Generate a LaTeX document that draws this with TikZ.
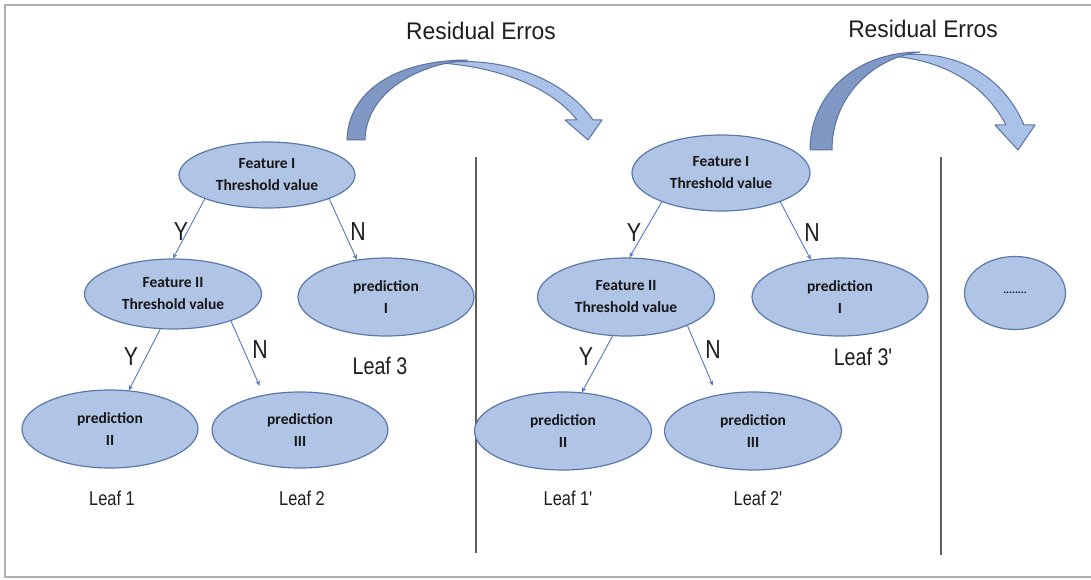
\documentclass[tikz,border=0pt]{standalone}
\usepackage{fontspec}
\setmainfont{Liberation Sans}
\newfontfamily\labfont[FakeStretch=0.82]{Liberation Sans}
\newfontfamily\titlefont[FakeStretch=0.95]{Liberation Sans}
\newfontfamily\calfont{Carlito}
\usetikzlibrary{shapes.geometric,arrows.meta}
\definecolor{ellfill}{RGB}{176,196,230}
\definecolor{ellborder}{RGB}{92,120,170}
\definecolor{edgecol}{RGB}{85,120,195}
\definecolor{txt}{RGB}{30,30,30}
\definecolor{nodetxt}{RGB}{22,22,22}
\definecolor{framecol}{RGB}{175,175,175}
\definecolor{sepcol}{RGB}{95,95,95}
\definecolor{arrdark}{RGB}{128,152,196}
\definecolor{arrlight}{RGB}{170,194,232}
\definecolor{arrborder}{RGB}{92,114,162}
\tikzset{
  ell/.style={ellipse, draw=ellborder, fill=ellfill, line width=1.2pt, inner sep=0pt,
    align=center, text=nodetxt, font=\calfont\bfseries\fontsize{15.5}{22}\selectfont},
  conn/.style={draw=edgecol, line width=0.9pt, -{Stealth[length=5pt,width=4.5pt]}},
  yn/.style={text=txt, font=\labfont\fontsize{26}{26}\selectfont, inner sep=0pt},
  leafsmall/.style={text=txt, font=\labfont\fontsize{20}{20}\selectfont, inner sep=0pt},
  leafbig/.style={text=txt, font=\labfont\fontsize{24}{24}\selectfont, inner sep=0pt},
  ttl/.style={text=txt, font=\titlefont\fontsize{24}{24}\selectfont, inner sep=0pt},
  arrowpart/.style={draw=arrborder, line width=1pt, line join=round},
  sep/.style={draw=sepcol, line width=1.6pt}
}
\begin{document}
\begin{tikzpicture}[x=1pt,y=-1pt]
\useasboundingbox (0,0) rectangle (1091,580);
\fill[white] (0,0) rectangle (1091,580);
% frame
\draw[framecol, line width=2.5pt] (1091,5) -- (5,5) -- (5,577) -- (1091,577);

% separators
\coordinate (s1t) at (476,157); \coordinate (s1b) at (476,553);
\coordinate (s2t) at (941,157); \coordinate (s2b) at (941,555);
\draw[sep] (s1t) -- (s1b);
\draw[sep] (s2t) -- (s2b);

% titles
\node[ttl] (t1) at (481,31) {Residual Erros};
\node[ttl] (t2) at (923,29) {Residual Erros};

% curved arrow 1
\filldraw[arrowpart, fill=arrlight] (440,63) .. controls (505,55) and (565,80) .. (593,120)
  -- (602,120) -- (588,140) -- (565,120) -- (577,120)
  .. controls (552,88) and (500,67) .. (440,63) -- cycle;
\filldraw[arrowpart, fill=arrdark] (347,140) .. controls (348,92) and (395,60) .. (468,60)
  .. controls (418,64) and (366,92) .. (365,140) -- cycle;

% curved arrow 2
\filldraw[arrowpart, fill=arrlight] (890,56) .. controls (960,46) and (1005,80) .. (1024,125)
  -- (1035,125) -- (1018,150) -- (995,125) -- (1006,125)
  .. controls (985,85) and (945,60) .. (890,56) -- cycle;
\filldraw[arrowpart, fill=arrdark] (810,150) .. controls (810,95) and (855,52) .. (920,52)
  .. controls (875,57) and (832,95) .. (832,150) -- cycle;

% left tree
\node[ell, minimum width=176pt, minimum height=66pt] (f1L) at (267,175) {Feature I\\Threshold value};
\node[ell, minimum width=177pt, minimum height=70pt] (f2L) at (173,294) {Feature II\\Threshold value};
\node[ell, minimum width=176pt, minimum height=78pt] (p1L) at (386,297) {prediction\\I};
\node[ell, minimum width=176pt, minimum height=78pt] (p2L) at (110,429) {prediction\\II};
\node[ell, minimum width=176pt, minimum height=76pt] (p3L) at (300,430) {prediction\\III};

\draw[conn] (f1L.201) -- (f2L.north);
\draw[conn] (f1L.339) -- (p1L.128);
\draw[conn] (f2L.250) -- (p2L.64);
\draw[conn, shorten >=10pt] (f2L.335) -- (p3L.136);

\node[yn] (yL1) at (181,232) {Y};
\node[yn] (nL1) at (358,232) {N};
\node[yn] (yL2) at (131,357) {Y};
\node[yn] (nL2) at (260,350) {N};

\node[leafsmall] (l1) at (112,498) {Leaf 1};
\node[leafsmall] (l2) at (302,498) {Leaf 2};
\node[leafbig] (l3) at (380,366) {Leaf 3};

% right tree
\node[ell, minimum width=178pt, minimum height=76pt] (f1R) at (721,173) {Feature I\\Threshold value};
\node[ell, minimum width=177pt, minimum height=78pt] (f2R) at (626,297) {Feature II\\Threshold value};
\node[ell, minimum width=176pt, minimum height=78pt] (p1R) at (840,297) {prediction\\I};
\node[ell, minimum width=177pt, minimum height=78pt] (p2R) at (563,431) {prediction\\II};
\node[ell, minimum width=177pt, minimum height=78pt] (p3R) at (753,431) {prediction\\III};
\node[ell, minimum width=101pt, minimum height=73pt, font=\calfont\bfseries\fontsize{11}{12}\selectfont] (dots) at (1015,293) {........};

\draw[conn] (f1R.206) -- (f2R.85);
\draw[conn] (f1R.334) -- (p1R.128);
\draw[conn] (f2R.251) -- (p2R.64);
\draw[conn, shorten >=10pt] (f2R.335) -- (p3R.135);

\node[yn] (yR1) at (634,233) {Y};
\node[yn] (nR1) at (812,233) {N};
\node[yn] (yR2) at (586,357) {Y};
\node[yn] (nR2) at (713,350) {N};

\node[leafsmall] (l1r) at (568,498) {Leaf 1'};
\node[leafsmall] (l2r) at (758,498) {Leaf 2'};
\node[leafbig] (l3r) at (863,357) {Leaf 3'};
\end{tikzpicture}
\end{document}
